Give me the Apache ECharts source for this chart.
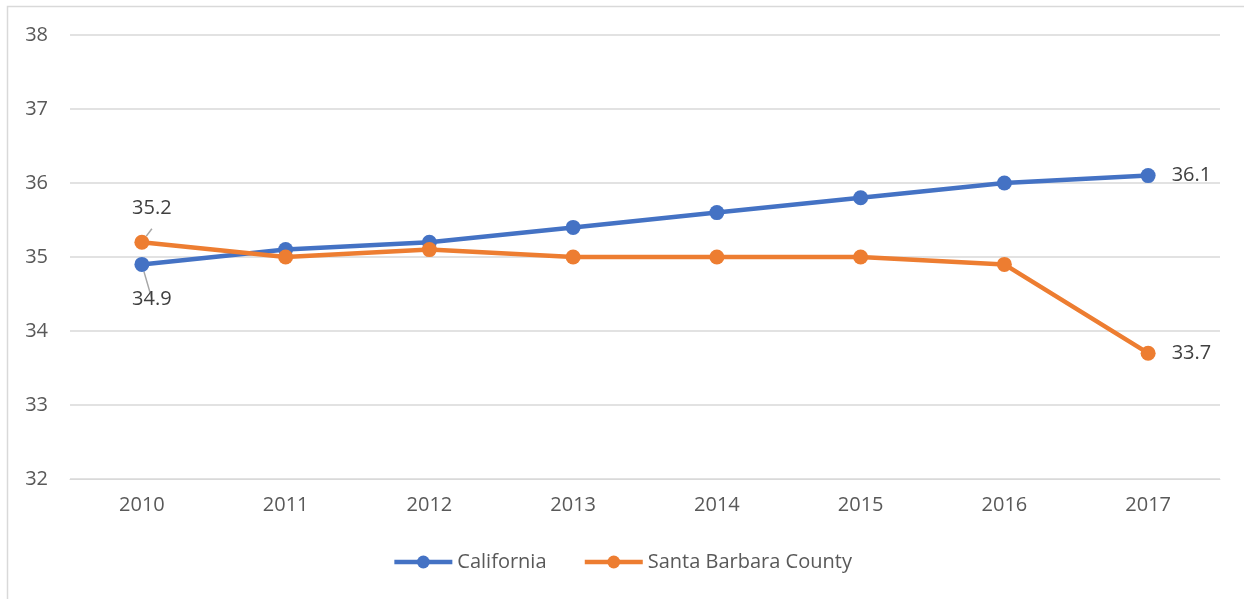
<!DOCTYPE html>
<html><head><meta charset="utf-8">
<script src="https://cdn.jsdelivr.net/npm/echarts@6/dist/echarts.min.js"></script>
<style>html,body{margin:0;padding:0;background:#fff}#c{width:1244px;height:599px}</style>
</head><body><div id="c"></div>
<script>
const years = ['2010','2011','2012','2013','2014','2015','2016','2017'];
const california = [34.9, 35.1, 35.2, 35.4, 35.6, 35.8, 36.0, 36.1];
const santaBarbara = [35.2, 35.0, 35.1, 35.0, 35.0, 35.0, 34.9, 33.7];
const seriesNames = ['California', 'Santa Barbara County'];
const yMin = 32, yMax = 38, yStep = 1;

const font = 'Open Sans';
const txt = '#595959';
const fs = 20;
const chart = echarts.init(document.getElementById('c'), null, {renderer:'canvas'});

function labelFor(seriesIdx, i, n) {
  if (i === n - 1) return {show:true, position:'right', distance:16, color:'#404040', fontFamily:font, fontSize:fs};
  if (i === 0) return {show:true, position: seriesIdx === 1 ? 'top' : 'bottom', distance: seriesIdx === 1 ? 16 : 17, offset:[10,0], color:'#404040', fontFamily:font, fontSize:fs};
  return {show:false};
}
function buildData(vals, sIdx) {
  return vals.map((v, i) => ({value: v, label: labelFor(sIdx, i, vals.length), labelLine:{show: i === 0}}));
}

chart.setOption({
  animation:false,
  graphic:[{type:'rect', shape:{x:7.5, y:6.5, width:1250, height:600}, style:{fill:'none', stroke:'#d9d9d9', lineWidth:1.5}}],
  grid:{left:70, right:24, top:35, bottom:120},
  legend:{
    data:seriesNames, bottom:22, left:'center', itemWidth:58, itemHeight:16, itemGap:36,
    lineStyle:{width:4.5},
    textStyle:{color:txt, fontFamily:font, fontSize:fs}
  },
  xAxis:{
    type:'category', data:years, boundaryGap:true,
    axisLine:{show:true, lineStyle:{color:'#d9d9d9'}}, axisTick:{show:false},
    axisLabel:{color:txt, fontFamily:font, fontSize:fs, margin:16}
  },
  yAxis:{
    type:'value', min:yMin, max:yMax, interval:yStep,
    axisLine:{show:false}, axisTick:{show:false},
    axisLabel:{color:txt, fontFamily:font, fontSize:fs, margin:22},
    splitLine:{lineStyle:{color:'#d9d9d9', width:1.5}}
  },
  series:[
    {name:seriesNames[0], type:'line', data:buildData(california,0), symbol:'circle', symbolSize:15,
     lineStyle:{color:'#4472c4', width:4.5}, itemStyle:{color:'#4472c4'},
     labelLine:{lineStyle:{color:'#a6a6a6', width:1.5}}},
    {name:seriesNames[1], type:'line', data:buildData(santaBarbara,1), symbol:'circle', symbolSize:15,
     lineStyle:{color:'#ed7d31', width:4.5}, itemStyle:{color:'#ed7d31'},
     labelLine:{lineStyle:{color:'#a6a6a6', width:1.5}}}
  ]
});
</script></body></html>
